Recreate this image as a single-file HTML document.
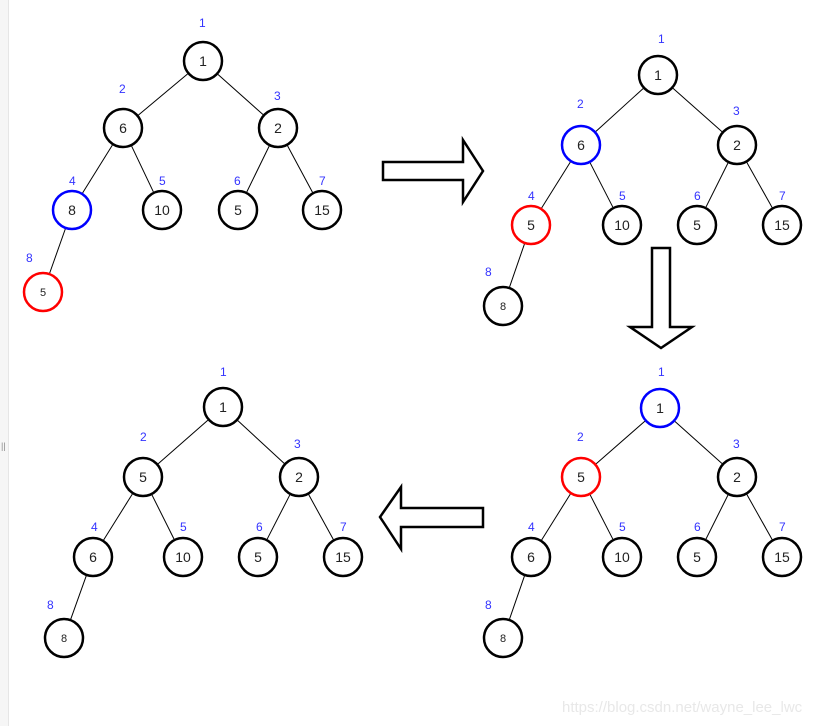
<!DOCTYPE html>
<html><head><meta charset="utf-8"><style>
body{margin:0;background:#fff;}
svg{display:block;font-family:"Liberation Sans",Arial,sans-serif;}
</style></head><body>
<svg id="s" width="826" height="726" viewBox="0 0 826 726">
<rect x="0" y="0" width="8" height="726" fill="#f6f6f6"/>
<line x1="8.5" y1="0" x2="8.5" y2="726" stroke="#e6e6e6"/>
<text x="1" y="449" font-size="9" fill="#888">||</text>
<polygon points="383,162 463,162 463,140 483,171 463,202 463,180 383,180" fill="#fff" stroke="#000" stroke-width="2.5"/>
<polygon points="652,248 670,248 670,327 692,327 661,348 630,327 652,327" fill="#fff" stroke="#000" stroke-width="2.5"/>
<polygon points="483,508 401,508 401,487 380,517 401,549 401,527 483,527" fill="#fff" stroke="#000" stroke-width="2.5"/>
<text x="562" y="712" font-size="15" fill="#e8e8e8">https://blog.csdn.net/wayne_lee_lwc</text>
</svg>
<script>
const treeValues=[[1,6,2,8,10,5,15,5],[1,6,2,5,10,5,15,8],[1,5,2,6,10,5,15,8],[1,5,2,6,10,5,15,8]];
const treeColors=[["k","k","k","b","k","k","k","r"],["k","b","k","r","k","k","k","k"],["b","r","k","k","k","k","k","k"],["k","k","k","k","k","k","k","k"]];
const nodeX=[[203,123,278,72,162,238,322,43],[658,581,737,531,622,697,782,503],[660,581,737,531,622,697,782,503],[223,143,299,93,183,258,343,64]];
const nodeY=[[61,128,128,210,210,210,210,292],[75,145,145,225,225,225,225,306],[408,477,477,557,557,557,557,638],[407,477,477,557,557,557,557,638]];
const labX=[[199,119,274,69,159,234,319,26],[658,577,733,528,619,694,779,485],[658,577,733,528,619,694,779,485],[220,140,294,91,180,256,340,47]];
const labY=[[27,93,100,185,185,185,185,262],[43,108,115,200,200,200,200,276],[376,441,448,531,531,531,531,609],[376,441,448,531,531,531,531,609]];
const parentIdx=[-1,0,0,1,1,2,2,3];
const NS="http://www.w3.org/2000/svg";
const svg=document.getElementById('s');
const col={k:"#000",b:"#0000ff",r:"#ff0000"};
function mk(t,a){const e=document.createElementNS(NS,t);for(const k in a)e.setAttribute(k,a[k]);svg.appendChild(e);return e;}
const R=20;
treeValues.forEach((vals,t)=>{
  vals.forEach((v,i)=>{
    const p=parentIdx[i];if(p<0)return;
    const x1=nodeX[t][p],y1=nodeY[t][p],x2=nodeX[t][i],y2=nodeY[t][i];
    const d=Math.hypot(x2-x1,y2-y1),ux=(x2-x1)/d,uy=(y2-y1)/d;
    const l=mk('line',{x1:x1+ux*R,y1:y1+uy*R,x2:x2-ux*R,y2:y2-uy*R,stroke:"#000","stroke-width":1});
    
    
  });
  vals.forEach((v,i)=>{
    const c=mk('circle',{cx:nodeX[t][i],cy:nodeY[t][i],r:R-1,fill:"#fff",stroke:col[treeColors[t][i]],"stroke-width":2.5});
    
    
    const tx=mk('text',{x:nodeX[t][i],y:nodeY[t][i]+(i===7?4:5),"text-anchor":"middle","font-size":i===7?11:14,fill:"#222"});
    tx.textContent=v;
    
    
    const lb=mk('text',{x:labX[t][i],y:labY[t][i],"font-size":12,fill:"#3333ff"});
    lb.textContent=i+1;
    
    
  });
});
</script>
</body></html>
